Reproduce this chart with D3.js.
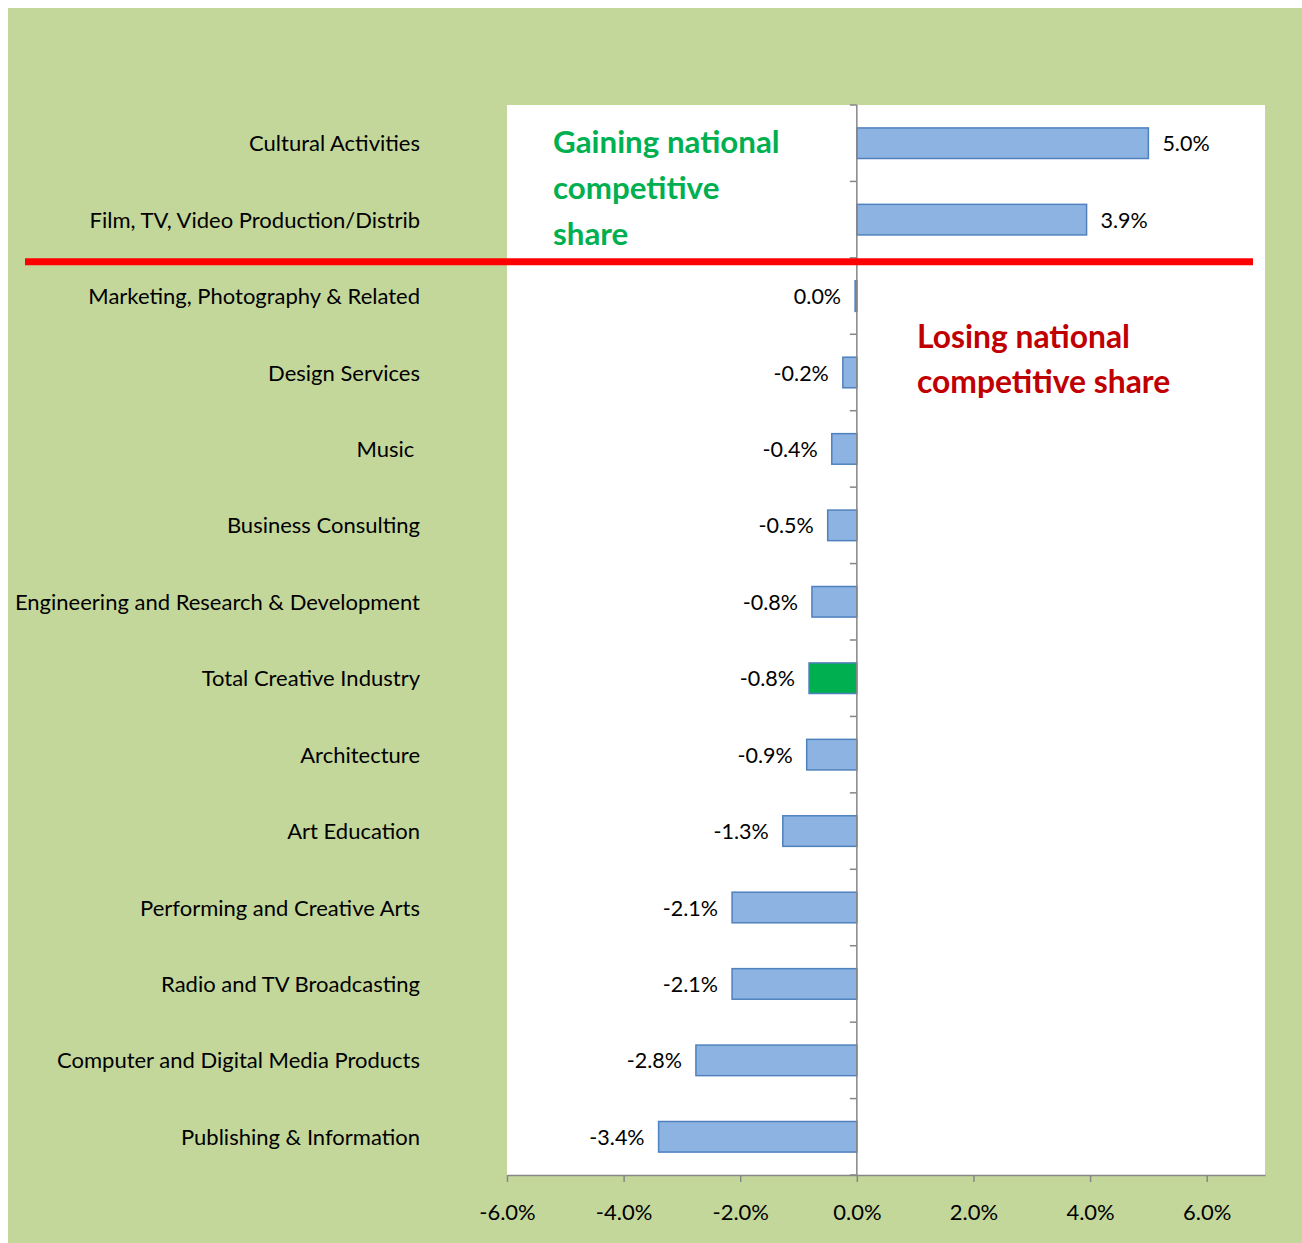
<!DOCTYPE html>
<html>
<head>
<meta charset="utf-8">
<script src="https://cdn.jsdelivr.net/npm/d3@7"></script>
<style>
  html, body { margin: 0; padding: 0; background: #ffffff; }
  svg { display: block; }
  text { font-family: Lato, "Open Sans", sans-serif; }
</style>
</head>
<body>
<svg id="chart" width="1302" height="1243"></svg>
<script>
// ---- data ----
const categories = [
  "Cultural Activities",
  "Film, TV, Video Production/Distrib",
  "Marketing, Photography & Related",
  "Design Services",
  "Music ",
  "Business Consulting",
  "Engineering and Research & Development",
  "Total Creative Industry",
  "Architecture",
  "Art Education",
  "Performing and Creative Arts",
  "Radio and TV Broadcasting",
  "Computer and Digital Media Products",
  "Publishing & Information"
];
const values = [5.0, 3.94, -0.03, -0.24, -0.43, -0.5, -0.77, -0.82, -0.86, -1.27, -2.14, -2.14, -2.76, -3.4];
const xTicks = [-6, -4, -2, 0, 2, 4, 6];
const highlightCategory = "Total Creative Industry";
const gainText = ["Gaining national", "competitive", "share"];
const loseText = ["Losing national", "competitive share"];

// ---- layout ----
const svg = d3.select("#chart");
const plot = { left: 507, right: 1265, top: 105, bottom: 1175 };

svg.append("rect").attr("x", 8).attr("y", 8).attr("width", 1294).attr("height", 1235)
  .attr("fill", "#c4d79b");
svg.append("rect").attr("x", plot.left).attr("y", plot.top)
  .attr("width", plot.right - plot.left).attr("height", plot.bottom - plot.top)
  .attr("fill", "#ffffff");

const x = d3.scaleLinear().domain([-6, 7]).range([plot.left, plot.right]);
const y = d3.scaleBand().domain(categories).range([plot.top, plot.bottom])
  .paddingInner(0.6).paddingOuter(0.3);

const fmt = v => { const r = Math.round(v * 10) / 10; return (r === 0 ? 0 : r).toFixed(1) + "%"; };

// bars
svg.append("g").selectAll("rect").data(categories).join("rect")
  .attr("x", (c, i) => Math.min(x(0), x(values[i])))
  .attr("y", c => y(c))
  .attr("width", (c, i) => Math.max(1, Math.abs(x(values[i]) - x(0))))
  .attr("height", y.bandwidth())
  .attr("fill", c => c === highlightCategory ? "#00b050" : "#8db3e2")
  .attr("stroke", "#4f81bd")
  .attr("stroke-width", 1.5);

// value labels
svg.append("g").selectAll("text").data(categories).join("text")
  .attr("x", (c, i) => values[i] >= 0 ? x(values[i]) + 14 : x(values[i]) - 14)
  .attr("y", c => y(c) + y.bandwidth() / 2 + 8)
  .attr("text-anchor", (c, i) => values[i] >= 0 ? "start" : "end")
  .attr("font-size", 21.5)
  .attr("fill", "#000")
  .text((c, i) => fmt(values[i]));

// category labels
svg.append("g").selectAll("text").data(categories).join("text")
  .attr("x", 420)
  .attr("y", c => y(c) + y.bandwidth() / 2 + 8)
  .attr("text-anchor", "end")
  .attr("font-size", 22)
  .attr("fill", "#000")
  .style("white-space", "pre")
  .text(c => c);

// vertical (category) axis at zero
const axisColor = "#868686";
svg.append("line").attr("x1", x(0)).attr("x2", x(0))
  .attr("y1", plot.top).attr("y2", plot.bottom)
  .attr("stroke", axisColor).attr("stroke-width", 1.5);
const step = y.step();
const bounds = d3.range(categories.length + 1).map(i => plot.top + i * step);
svg.append("g").selectAll("line").data(bounds).join("line")
  .attr("x1", x(0) - 7).attr("x2", x(0))
  .attr("y1", d => d).attr("y2", d => d)
  .attr("stroke", axisColor).attr("stroke-width", 1.5);

// x axis
const xAxis = d3.axisBottom(x).tickValues(xTicks).tickSize(7).tickSizeOuter(0)
  .tickFormat(v => v.toFixed(1) + "%");
const gx = svg.append("g").attr("transform", `translate(0,${plot.bottom})`).call(xAxis);
gx.select(".domain").attr("stroke", axisColor).attr("stroke-width", 1.5);
gx.selectAll(".tick line").attr("stroke", axisColor).attr("stroke-width", 1.5);
gx.selectAll(".tick text").attr("font-size", 22).attr("fill", "#000")
  .attr("font-family", "Lato, sans-serif").attr("dy", 0).attr("y", 45);

// red divider line
const divY = y(categories[2]) - step * y.paddingInner() / 2 + 4;
svg.append("line").attr("x1", 25).attr("x2", 1253)
  .attr("y1", divY).attr("y2", divY)
  .attr("stroke", "#ff0000").attr("stroke-width", 7);

// annotations
svg.append("g").selectAll("text").data(gainText).join("text")
  .attr("x", 553).attr("y", (d, i) => 153 + i * 46)
  .attr("font-size", 31.3).attr("font-weight", "bold").attr("fill", "#00b050")
  .text(d => d);
svg.append("g").selectAll("text").data(loseText).join("text")
  .attr("x", 917).attr("y", (d, i) => 348 + i * 45)
  .attr("font-size", 31.8).attr("font-weight", "bold").attr("fill", "#c00000")
  .text(d => d);
</script>
</body>
</html>
